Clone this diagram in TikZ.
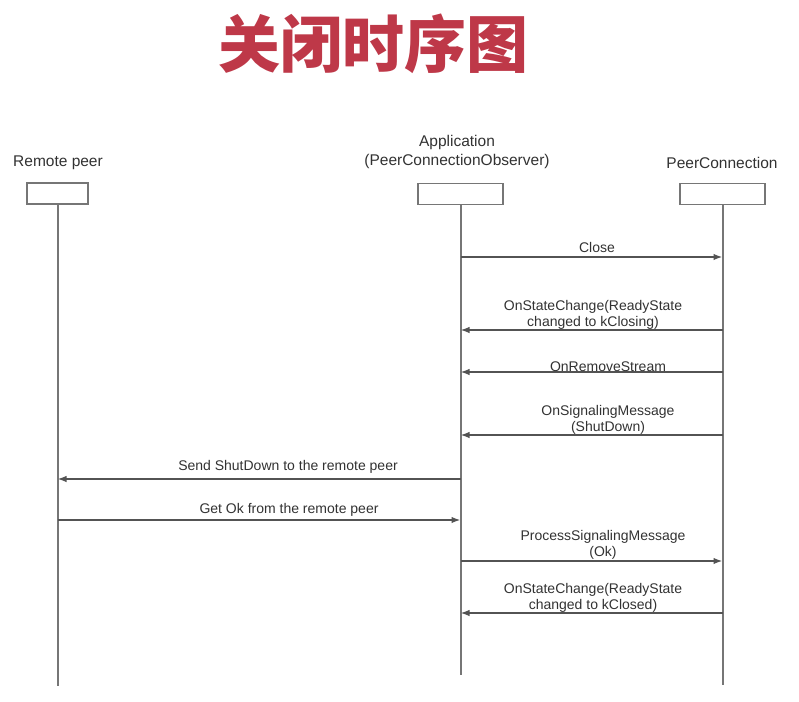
\documentclass[tikz,border=0pt]{standalone}
\usepackage{fontspec}
\setmainfont{Liberation Sans}
\newfontfamily\cjk{Noto Sans CJK SC}
\usetikzlibrary{arrows.meta}
\definecolor{titlered}{RGB}{190,56,72}
\definecolor{linegray}{RGB}{118,118,118}
\definecolor{textgray}{RGB}{50,50,50}
\tikzset{
  head/.style={draw=linegray, line width=1.8pt, fill=white, inner sep=0pt, minimum height=21pt},
  hlbl/.style={text=textgray, font=\fontsize{15.5}{19}\selectfont, align=center, inner sep=0pt},
  lbl/.style={text=textgray, font=\fontsize{14}{15.5}\selectfont, align=center, inner sep=0pt},
  life/.style={draw=linegray, line width=2pt},
  msg/.style={draw=linegray!70!black, line width=1.6pt, -{Latex[length=9pt,width=6.5pt]}}
}
\begin{document}
\begin{tikzpicture}[x=1pt,y=-1pt]
  \useasboundingbox (0,0) rectangle (799,701);
  \node (title) at (373,44) {\cjk\bfseries\fontsize{62}{70}\selectfont\color{titlered}关闭时序图};
  % lifeline heads
  \draw
    (58,163) node[hlbl] (t0) {Remote peer}
    (457,152) node[hlbl] (t1) {Application\\(PeerConnectionObserver)}
    (722,163) node[hlbl] (t2) {PeerConnection}
    (57.5,193.5) node[head, minimum width=61pt] (0) {}
    (460.5,194) node[head, minimum width=85pt] (1) {}
    (722.5,194) node[head, minimum width=85pt] (2) {};
  % lifeline ends
  \draw
    (57.5,686) coordinate (e0)
    (460.5,675) coordinate (e1)
    (722.5,685) coordinate (e2);
  \begin{scope}[life]
    \draw (0) to (e0);
    \draw (1) to (e1);
    \draw (2) to (e2);
  \end{scope}
  % message points on the lifelines
  \draw
    (460.5,257) coordinate (a1)  (722.5,257) coordinate (b1)
    (460.5,330) coordinate (a2)  (722.5,330) coordinate (b2)
    (460.5,372) coordinate (a3)  (722.5,372) coordinate (b3)
    (460.5,435) coordinate (a4)  (722.5,435) coordinate (b4)
    (57.5,479) coordinate (r5)   (460.5,479) coordinate (a5)
    (57.5,520) coordinate (r6)   (460.5,520) coordinate (a6)
    (460.5,561) coordinate (a7)  (722.5,561) coordinate (b7)
    (460.5,613) coordinate (a8)  (722.5,613) coordinate (b8);
  \begin{scope}[msg]
    \draw (a1) to (b1);
    \draw (b2) to (a2);
    \draw (b3) to (a3);
    \draw (b4) to (a4);
    \draw (a5) to (r5);
    \draw (r6) to (a6);
    \draw (a7) to (b7);
    \draw (b8) to (a8);
  \end{scope}
  % message labels
  \draw
    (597,247) node[lbl] (m1) {Close}
    (593,315) node[lbl] (m2) {OnStateChange(ReadyState\\changed to kClosing)}
    (608,367) node[lbl] (m3) {OnRemoveStream}
    (608,420) node[lbl] (m4) {OnSignalingMessage\\(ShutDown)}
    (288,467) node[lbl] (m5) {Send ShutDown to the remote peer}
    (289,510) node[lbl] (m6) {Get Ok from the remote peer}
    (603,545) node[lbl] (m7) {ProcessSignalingMessage\\(Ok)}
    (593,598) node[lbl] (m8) {OnStateChange(ReadyState\\changed to kClosed)};
\end{tikzpicture}
\end{document}
